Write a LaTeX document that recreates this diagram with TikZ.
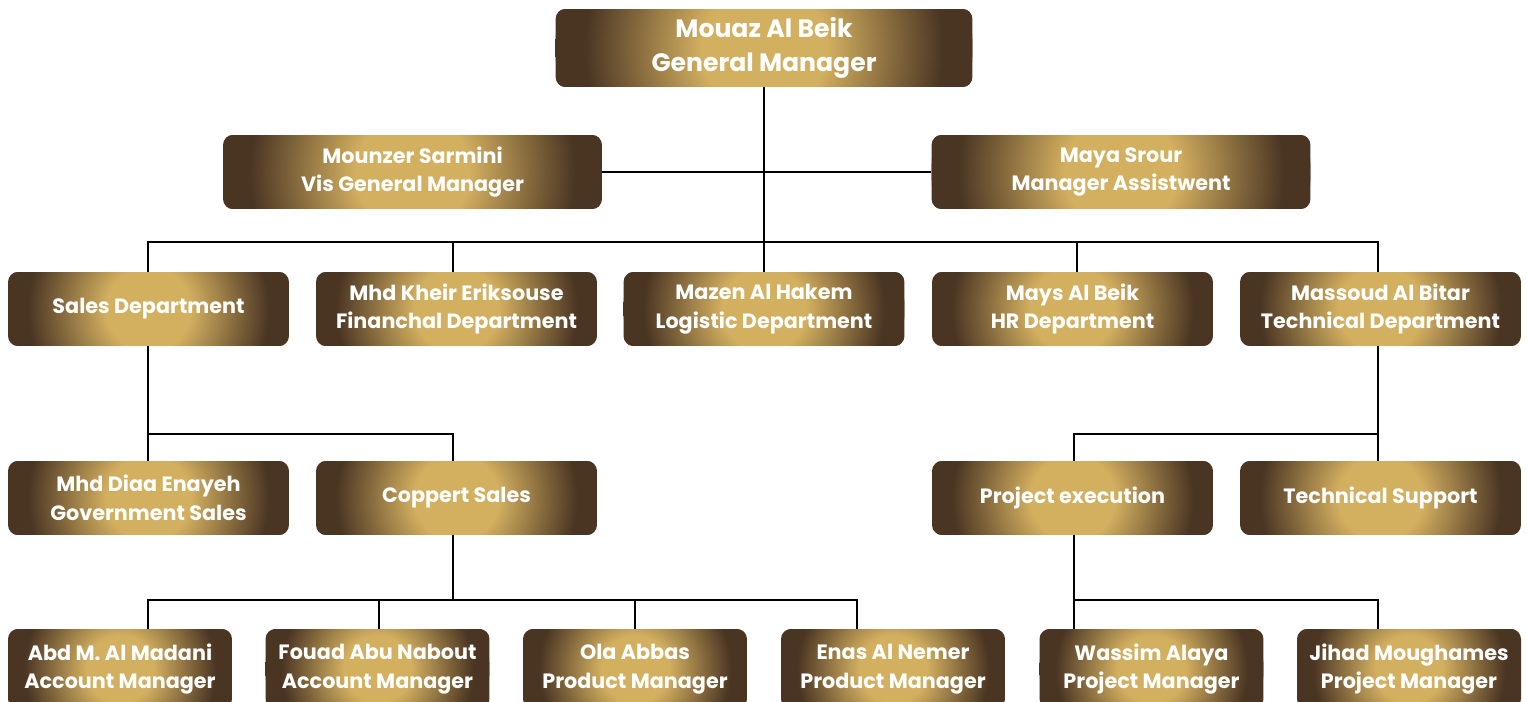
\documentclass[tikz,border=0pt]{standalone}
\usepackage{fontspec}
\setmainfont{Poppins}
\usetikzlibrary{calc}
\definecolor{brownc}{HTML}{4A3523}
\definecolor{goldc}{HTML}{D3AF60}
\pgfdeclareradialshading{goldglow}{\pgfpoint{0bp}{0bp}}{color(0bp)=(goldc); color(7.5bp)=(goldc); color(21.5bp)=(brownc); color(50bp)=(brownc)}
\tikzset{
  box/.style={rounded corners=0.2cm, fill=brownc, text=white, align=center,
    font=\fontsize{11.8}{16.4}\selectfont\bfseries, inner sep=0pt,
    path picture={\shade[shading=goldglow] let \p1=(path picture bounding box.south west), \p2=(path picture bounding box.north east) in
      (path picture bounding box.center) ellipse [x radius={0.5*(\x2-\x1)}, y radius={0.5*(\x2-\x1)}];}},
  wbig/.style={minimum width=8.34cm, minimum height=1.56cm, font=\fontsize{14.3}{19.8}\selectfont\bfseries},
  wmid/.style={minimum width=7.58cm, minimum height=1.48cm},
  wrow/.style={minimum width=5.62cm, minimum height=1.48cm},
  wsm/.style={minimum width=4.48cm, minimum height=1.6cm},
  link/.style={line width=1.15pt, black}
}
\begin{document}
\begin{tikzpicture}[x=0.02cm, y=-0.02cm]
\useasboundingbox[fill=white] (0,0) rectangle (1527,702);
% nodes
\node[box, wbig] (gm) at (764,48) {Mouaz Al Beik\\General Manager};
\node[box, wmid] (vgm) at (412.5,172) {Mounzer Sarmini\\Vis General Manager};
\node[box, wmid] (asst) at (1121,172) {Maya Srour\\Manager Assistwent};
\node[box, wrow] (sales) at (148.5,309) {Sales Department};
\node[box, wrow] (fin) at (456.5,309) {Mhd Kheir Eriksouse\\Financhal Department};
\node[box, wrow] (log) at (764,309) {Mazen Al Hakem\\Logistic Department};
\node[box, wrow] (hr) at (1072.5,309) {Mays Al Beik\\HR Department};
\node[box, wrow] (tech) at (1380.5,309) {Massoud Al Bitar\\Technical Department};
\node[box, wrow] (diaa) at (148.5,498) {Mhd Diaa Enayeh\\Government Sales};
\node[box, wrow] (corp) at (456.5,498) {Coppert Sales};
\node[box, wrow] (proj) at (1072.5,498) {Project execution};
\node[box, wrow] (supp) at (1380.5,498) {Technical Support};
\node[box, wsm] (abd) at (120,669) {Abd M. Al Madani\\Account Manager};
\node[box, wsm] (fouad) at (377.5,669) {Fouad Abu Nabout\\Account Manager};
\node[box, wsm] (ola) at (635,669) {Ola Abbas\\Product Manager};
\node[box, wsm] (enas) at (893,669) {Enas Al Nemer\\Product Manager};
\node[box, wsm] (wassim) at (1151.5,669) {Wassim Alaya\\Project Manager};
\node[box, wsm] (jihad) at (1409,669) {Jihad Moughames\\Project Manager};
% junction coordinates
\coordinate (b1) at (0,242);
\coordinate (b2) at (0,434);
\coordinate (b3) at (0,600);
\coordinate (tAbd) at (148,629);
\coordinate (tFouad) at (379,629);
\coordinate (tOla) at (635,629);
\coordinate (tEnas) at (857,629);
\coordinate (tWassim) at (1074,629);
\coordinate (tJihad) at (1378,629);
\coordinate (tProj) at (1074,461);
\coordinate (tSupp) at (1378,461);
\coordinate (tSales) at (148,272);
\coordinate (tTech) at (1378,272);
\coordinate (tDiaa) at (148,461);
\coordinate (tCorp) at (453,461);
\coordinate (tFin) at (453,272);
\coordinate (tHr) at (1077,272);
% connectors
\draw[link] (gm.south) -- (log.north);
\draw[link] (vgm.east) -- (asst.west);
\draw[link] (tSales) |- (b1 -| tTech) -- (tTech);
\draw[link] (tFin) -- (tFin |- b1);
\draw[link] (tHr) -- (tHr |- b1);
\draw[link] (sales.south -| tSales) -- (tDiaa);
\draw[link] (tSales |- b2) -| (tCorp);
\draw[link] (corp.south -| tCorp) -- (tCorp |- b3);
\draw[link] (tAbd) |- (b3 -| tEnas) -- (tEnas);
\draw[link] (tFouad) -- (tFouad |- b3);
\draw[link] (tOla) -- (tOla |- b3);
\draw[link] (tech.south -| tTech) -- (tSupp);
\draw[link] (tTech |- b2) -| (tProj);
\draw[link] (proj.south -| tProj) -- (tWassim);
\draw[link] (tWassim |- b3) -| (tJihad);
\end{tikzpicture}
\end{document}
